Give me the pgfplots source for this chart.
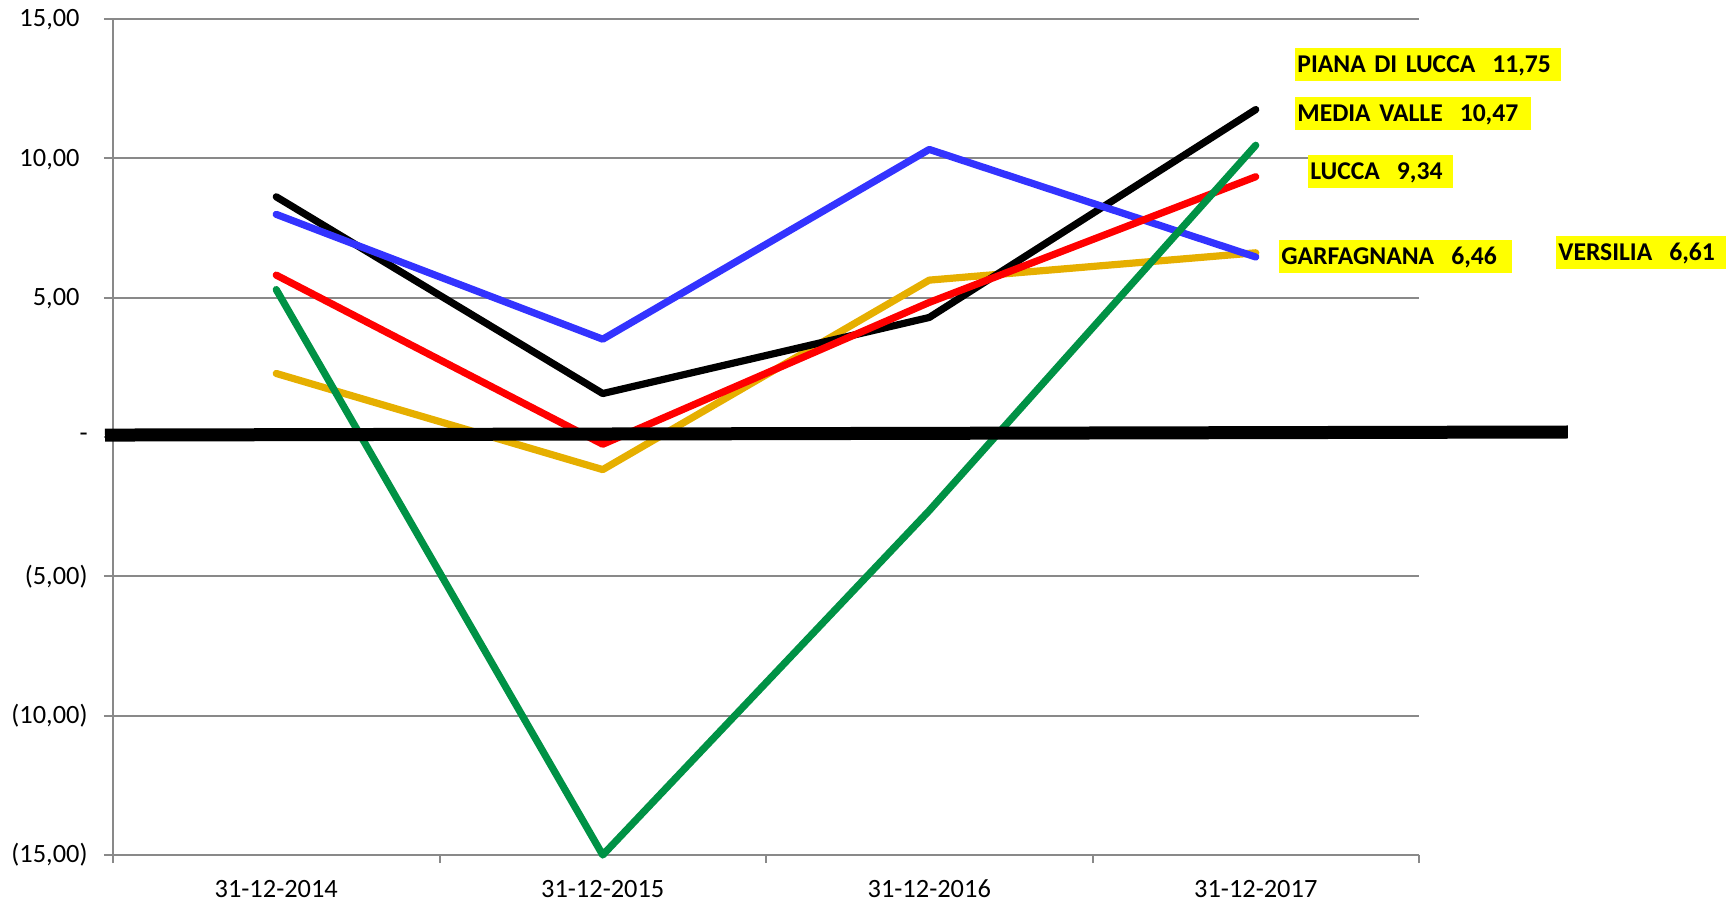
\documentclass[border=0pt]{standalone}
\usepackage{pgfplots}
\pgfplotsset{compat=1.18}
\usepackage{fontspec}
\setmainfont{Carlito}
\definecolor{cblue}{RGB}{51,51,255}
\definecolor{cred}{RGB}{255,0,0}
\definecolor{cgreen}{RGB}{0,146,69}
\definecolor{corange}{RGB}{230,175,0}
\definecolor{cgrid}{RGB}{137,137,137}
\definecolor{cyel}{RGB}{255,255,0}
\begin{document}
\fontsize{13.2}{15}\selectfont
\begin{tikzpicture}[x=0.5pt,y=-0.5pt]
\useasboundingbox (0,0) rectangle (1729,901);
\begin{axis}[
  at={(56.5pt,-427.5pt)}, anchor=south west,
  scale only axis, width=653pt, height=418pt,
  xmin=0, xmax=4, ymin=-15, ymax=15,
  clip=false,
  axis lines*=left,
  axis line style={cgrid, line width=1pt},
  tick align=outside,
  xtick={0.5,1.5,2.5,3.5},
  xticklabels={31-12-2014,31-12-2015,31-12-2016,31-12-2017},
  major x tick style={draw=none},
  minor xtick={0,1,2,3,4},
  minor tick length=4pt,
  minor x tick style={cgrid, line width=1pt},
  ytick={-15,-10,-5,0,5,10,15},
  yticklabels={{(15,00)},{(10,00)},{(5,00)},{-\hspace{9pt}},{5,00\phantom{)}},{10,00\phantom{)}},{15,00\phantom{)}}},
  major tick length=4.5pt,
  major y tick style={cgrid, line width=1pt},
  ymajorgrids,
  grid style={cgrid, line width=1pt},
  yticklabel style={font=\fontsize{13.2}{15}\selectfont, anchor=east, inner sep=0pt, xshift=-8pt},
  xticklabel style={font=\fontsize{13.2}{15}\selectfont, anchor=base, inner sep=0pt, text depth=0pt, yshift=-16.5pt},
]
% VERSILIA
\addplot[corange, line width=3.6pt, line cap=round, line join=round] coordinates {(0.5,2.28) (1.5,-1.17) (2.5,5.63) (3.5,6.61)};
% PIANA DI LUCCA
\addplot[black, line width=3.6pt, line cap=round, line join=round] coordinates {(0.5,8.62) (1.5,1.56) (2.5,4.29) (3.5,11.75)};
% GARFAGNANA
\addplot[cblue, line width=3.6pt, line cap=round, line join=round] coordinates {(0.5,7.99) (1.5,3.51) (2.5,10.32) (3.5,6.46)};
% LUCCA
\addplot[cred, line width=3.6pt, line cap=round, line join=round] coordinates {(0.5,5.81) (1.5,-0.26) (2.5,4.83) (3.5,9.34)};
% MEDIA VALLE
\addplot[cgreen, line width=3.6pt, line cap=round, line join=round] coordinates {(0.5,5.29) (1.5,-15.0) (2.5,-2.64) (3.5,10.47)};
% zero line
\addplot[black, line width=6.5pt, line cap=butt] coordinates {(-0.0245,0.07) (4.456,0.18)};
\end{axis}
\tikzset{lab/.style={fill=cyel, anchor=west, inner sep=0pt, align=left, text height=0.64em, text depth=0pt, minimum height=16.5pt, font=\fontsize{12.8}{15}\selectfont\bfseries}}
\node[lab, text width=133pt] at (1295,64.5) {\hspace{1pt}PIANA DI LUCCA\ \ 11,75};
\node[lab, text width=118pt] at (1295,113) {\hspace{1pt}MEDIA VALLE\ \ 10,47};
\node[lab, text width=72.5pt] at (1308,171) {\hspace{1pt}LUCCA\ \ 9,34};
\node[lab, text width=116.5pt] at (1279,256.5) {\hspace{1pt}GARFAGNANA\ \ 6,46};
\node[lab, text width=85pt] at (1556,252.5) {\hspace{1pt}VERSILIA\ \ 6,61};
\end{tikzpicture}
\end{document}
